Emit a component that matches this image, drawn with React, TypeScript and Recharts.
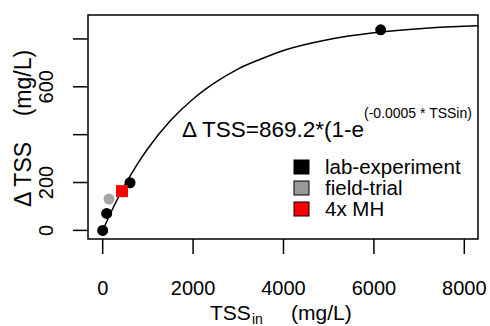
import React from "react";
import { ComposedChart, Line, Scatter, XAxis, YAxis, ReferenceArea } from "recharts";

// fitted curve
const curveX = [0, 250, 500, 750, 1000, 1500, 2000, 2500, 3000, 3500, 4000, 5000, 6000, 7000, 8000, 8300];
const curveY = [0, 102, 193, 272, 342, 459, 549, 619, 675, 716, 752, 798, 826, 843, 853, 855];

// measured points
const labX = [0, 88, 604, 6150];
const labY = [0, 71, 199, 838];
const fieldX = [139];
const fieldY = [131];
const mhX = [427];
const mhY = [164];

const xTicks = [0, 2000, 4000, 6000, 8000];
const yTicks = [0, 200, 400, 600, 800];
const yLabelled = [0, 200, 600];

const legendLabels = ["lab-experiment", "field-trial", "4x MH"];
const legendColors = ["#000000", "#999999", "#FF0000"];

const xDomain = [-325, 8303];
const yDomain = [-36, 900];

const FONT = "'Liberation Sans', Arial, sans-serif";

const toRows = (xs: number[], ys: number[]) => xs.map((x, i) => ({ x, y: ys[i] }));

const curve = toRows(curveX, curveY);
const lab = toRows(labX, labY);
const field = toRows(fieldX, fieldY);
const mh = toRows(mhX, mhY);

const XTick = (props: any) => {
  const { x, y, payload } = props;
  return (
    <text x={x} y={y + 39} textAnchor="middle" fontSize={20} fontFamily={FONT} fill="#000">
      {payload.value}
    </text>
  );
};

const YTick = (props: any) => {
  const { x, y, payload } = props;
  if (!yLabelled.includes(payload.value)) return <g />;
  return (
    <text
      transform={`translate(${x - 18},${y}) rotate(-90)`}
      textAnchor="middle"
      fontSize={20}
      fontFamily={FONT}
      fill="#000"
    >
      {payload.value}
    </text>
  );
};

const Dot = (color: string) => (props: any) =>
  <circle cx={props.cx} cy={props.cy} r={5.5} fill={color} />;

const Square = (props: any) =>
  <rect x={props.cx - 6} y={props.cy - 6} width={12} height={12} fill="#FF0000" />;

export default function App() {
  return (
    <div style={{ position: "absolute", left: 0, top: 0, width: 490, height: 326, background: "#fff" }}>
      <ComposedChart width={490} height={326} margin={{ top: 15, right: 12, left: 0, bottom: 0 }}>
        <XAxis
          dataKey="x"
          type="number"
          domain={xDomain}
          allowDataOverflow
          ticks={xTicks}
          tick={<XTick />}
          tickSize={15}
          tickLine={{ stroke: "#000", strokeWidth: 1.5 }}
          axisLine={false}
          height={87}
        />
        <YAxis
          dataKey="y"
          type="number"
          domain={yDomain}
          allowDataOverflow
          ticks={yTicks}
          tick={<YTick />}
          tickSize={15}
          tickLine={{ stroke: "#000", strokeWidth: 1.5 }}
          axisLine={false}
          width={88}
        />
        <ReferenceArea
          x1={xDomain[0]}
          x2={xDomain[1]}
          y1={yDomain[0]}
          y2={yDomain[1]}
          fill="none"
          fillOpacity={0}
          stroke="#000"
          strokeWidth={1.5}
        />
        <Line
          data={curve}
          dataKey="y"
          type="monotone"
          stroke="#000"
          strokeWidth={1.5}
          dot={false}
          isAnimationActive={false}
        />
        <Scatter data={lab} dataKey="y" shape={Dot("#000000")} isAnimationActive={false} />
        <Scatter data={field} dataKey="y" shape={Dot("#A6A6A6")} isAnimationActive={false} />
        <Scatter data={mh} dataKey="y" shape={Square} isAnimationActive={false} />
      </ComposedChart>
      <svg
        width={490}
        height={326}
        style={{ position: "absolute", left: 0, top: 0, pointerEvents: "none" }}
        fontFamily={FONT}
      >
        <text transform="translate(31,128.5) rotate(-90)" textAnchor="middle" fontSize={23} fill="#000">
          {"Δ TSS\u00A0\u00A0\u00A0\u00A0(mg/L)"}
        </text>
        <text x={210} y={320} fontSize={21} fill="#000">TSS</text>
        <text x={252} y={324} fontSize={14} fill="#000">in</text>
        <text x={291} y={320} fontSize={21} fill="#000">(mg/L)</text>
        <text x={182} y={136.5} fontSize={22.5} fill="#000">
          {"Δ TSS=869.2*(1-e"}
          <tspan fontSize={14} dy={-19}>{"(-0.0005 * TSSin)"}</tspan>
        </text>
        {legendLabels.map((lbl, i) => (
          <g key={lbl}>
            <rect
              x={294}
              y={160 + i * 21}
              width={15}
              height={14}
              fill={legendColors[i]}
              stroke="#000"
              strokeWidth={1}
            />
            <text x={325} y={174 + i * 21} fontSize={20.5} fill="#000">
              {lbl}
            </text>
          </g>
        ))}
      </svg>
    </div>
  );
}
